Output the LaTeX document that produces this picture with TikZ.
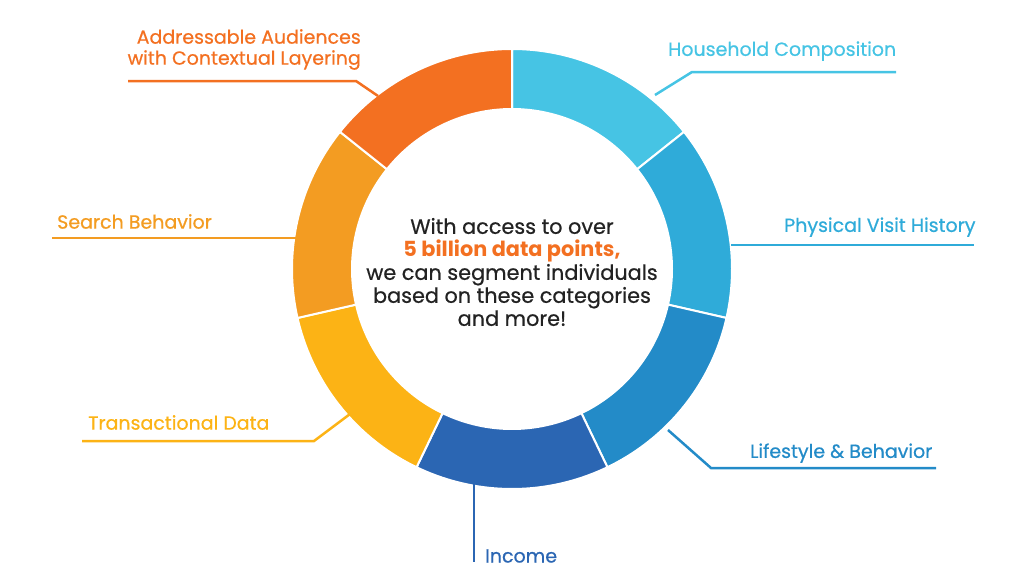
\documentclass[tikz,border=0pt]{standalone}
\usepackage{fontspec}
\setmainfont{Poppins}
\usetikzlibrary{calc}
\begin{document}
\definecolor{hh}{HTML}{46C4E4}
\definecolor{pv}{HTML}{2FABD9}
\definecolor{lb}{HTML}{238BC8}
\definecolor{inc}{HTML}{2B66B3}
\definecolor{td}{HTML}{FCB315}
\definecolor{sb}{HTML}{F39C22}
\definecolor{aa}{HTML}{F37021}
\definecolor{ink}{HTML}{222222}
\begin{tikzpicture}[x=1pt,y=-1pt,
  seg/.style={draw=white,line width=2pt},
  lead/.style={line width=2.5pt},
  lab/.style={font=\fontsize{19}{21}\selectfont\addfontfeature{FakeBold=0.6},inner sep=0pt}]
\useasboundingbox (0,0) rectangle (1024,584);
\coordinate (c) at (512,269);
\begin{scope}[shift={(512,269)},y=1pt]
\foreach \a/\b/\col in {90/38.57/hh,38.57/-12.86/pv,-12.86/-64.29/lb,-64.29/-115.71/inc,-115.71/-167.14/td,-167.14/-218.57/sb,141.43/90/aa}{
  \fill[\col,seg] (\a:220) arc[start angle=\a,end angle=\b,radius=220]
   -- (\b:160) arc[start angle=\b,end angle=\a,radius=160] -- cycle;
}
\end{scope}
\node[align=center,text=ink,font=\fontsize{20.8}{23}\selectfont\addfontfeature{FakeBold=0.6}] (ctr) at (512,272) {With access to over\\{\color{aa}\addfontfeature{FakeBold=0}\bfseries 5 billion data points,}\\we can segment individuals\\based on these categories\\and more!};
\coordinate (h1) at (655,95); \coordinate (h2) at (692,72); \coordinate (h3) at (896,72);
\draw[hh,lead] (h1) -- (h2) -- (h3);
\node[lab,hh,anchor=south west] (lh) at (668,61) {Household Composition};
\coordinate (p1) at (731,245); \coordinate (p2) at (974,245);
\draw[pv,lead] (p1) -- (p2);
\node[lab,pv,anchor=south west] (lp) at (784,237) {Physical Visit History};
\coordinate (l1) at (668,430); \coordinate (l2) at (711,468); \coordinate (l3) at (936,468);
\draw[lb,lead] (l1) -- (l2) -- (l3);
\node[lab,lb,anchor=south west] (ll) at (750,463) {Lifestyle \& Behavior};
\coordinate (i1) at (474,482); \coordinate (i2) at (474,562);
\draw[inc,lead] (i1) -- (i2);
\node[lab,inc,anchor=west] (li) at (485,556) {Income};
\coordinate (t1) at (350,414); \coordinate (t2) at (314,441); \coordinate (t3) at (82,441);
\draw[td,lead] (t1) -- (t2) -- (t3);
\node[lab,td,anchor=south west] (lt) at (88,430) {Transactional Data};
\coordinate (s1) at (297,238); \coordinate (s2) at (52,238);
\draw[sb,lead] (s1) -- (s2);
\node[lab,sb,anchor=south west] (ls) at (57,229) {Search Behavior};
\coordinate (a1) at (378,96); \coordinate (a2) at (356,81); \coordinate (a3) at (128,81);
\draw[aa,lead] (a1) -- (a2) -- (a3);
\node[lab,aa,anchor=south east,align=right] (la) at (361,70) {Addressable Audiences\\with Contextual Layering};
\end{tikzpicture}
\end{document}
